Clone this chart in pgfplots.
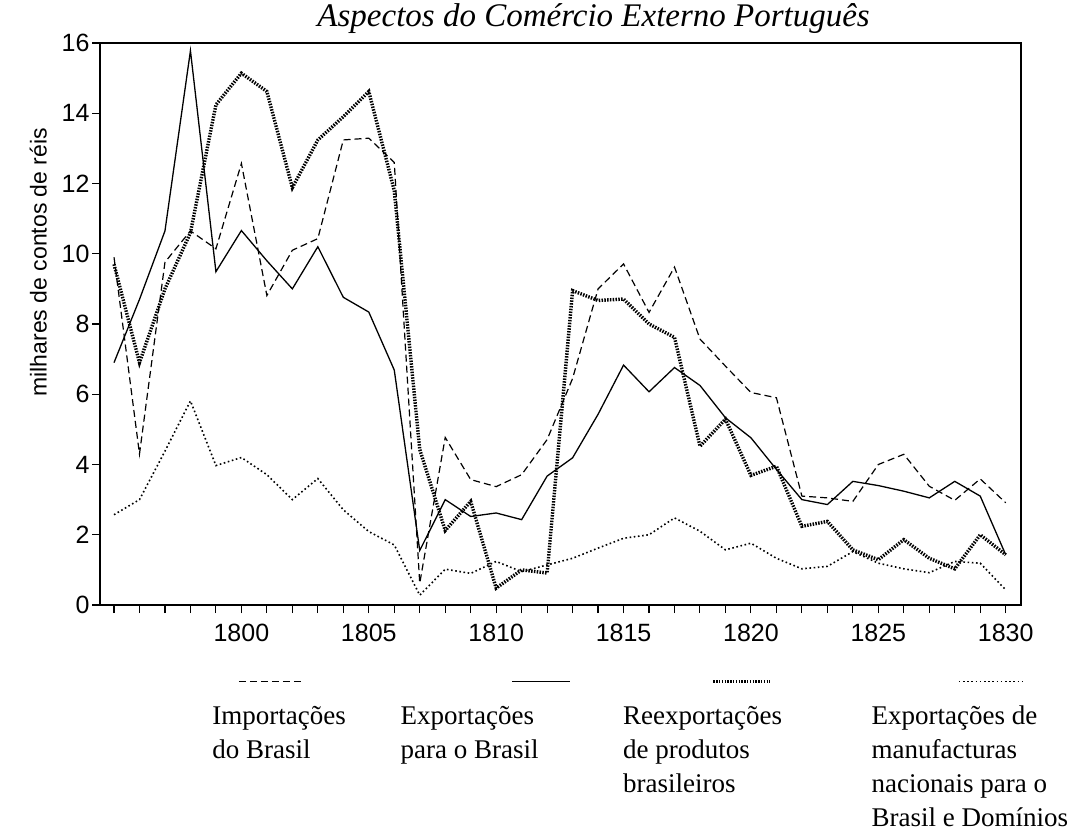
\documentclass[border=0pt]{standalone}
\usepackage{fontspec}
\setmainfont{Liberation Serif}
\setsansfont{Liberation Sans}
\usepackage{pgfplots}
\pgfplotsset{compat=1.18}
\usepackage{pgfplotstable}

\pgfplotsset{limg/.style 2 args={legend image code/.code={\draw[##1, overlay] (#1,19pt) -- (#2,19pt); \path (0pt,0pt);}}}
\newcommand{\legtext}[2]{\parbox[t]{#1}{\raggedright\strut #2}}

\pgfplotstableread{
year imp exp reexp manuf
1795 9.90 6.90 9.70 2.57
1796 4.30 8.70 6.90 3.00
1797 9.76 10.65 9.00 4.38
1798 10.65 15.78 10.60 5.81
1799 10.14 9.49 14.24 3.97
1800 12.57 10.66 15.14 4.20
1801 8.81 9.80 14.62 3.71
1802 10.10 9.00 11.88 3.00
1803 10.43 10.20 13.24 3.60
1804 13.24 8.76 13.90 2.71
1805 13.29 8.34 14.62 2.09
1806 12.60 6.69 11.80 1.71
1807 0.62 1.55 4.43 0.28
1808 4.77 3.00 2.12 1.02
1809 3.57 2.52 2.95 0.90
1810 3.37 2.62 0.48 1.24
1811 3.71 2.43 1.00 0.95
1812 4.71 3.67 0.91 1.14
1813 6.45 4.19 8.95 1.33
1814 9.00 5.43 8.67 1.62
1815 9.71 6.83 8.71 1.90
1816 8.33 6.07 8.00 2.00
1817 9.62 6.76 7.62 2.48
1818 7.57 6.25 4.52 2.10
1819 6.80 5.33 5.29 1.57
1820 6.05 4.76 3.69 1.76
1821 5.90 3.86 3.95 1.33
1822 3.10 3.00 2.24 1.03
1823 3.05 2.86 2.38 1.10
1824 2.95 3.52 1.57 1.52
1825 4.00 3.40 1.29 1.19
1826 4.29 3.24 1.86 1.03
1827 3.38 3.05 1.33 0.92
1828 2.98 3.52 1.03 1.24
1829 3.59 3.10 2.00 1.19
1830 2.91 1.43 1.43 0.43
}\datatable

\begin{document}
\begin{tikzpicture}
\begin{axis}[name=ax, scale only axis, width=921pt, height=562pt,
  xmin=1794.45, xmax=1830.6, ymin=0, ymax=16,
  xtick={1800,1805,...,1830}, minor xtick={1795,...,1830},
  ytick={0,2,...,16},
  tick align=outside, tick pos=left,
  major tick length=8pt, minor tick length=8pt,
  every tick/.style={black, line width=1.1pt},
  axis line style={line width=1.5pt},
  /pgf/number format/assume math mode=true,
  /pgf/number format/1000 sep={},
  xticklabel style={font=\sffamily\fontsize{25}{25}\selectfont, yshift=-8pt},
  yticklabel style={font=\sffamily\fontsize{25}{25}\selectfont, xshift=1pt},
  ylabel={milhares de contos de réis},
  ylabel style={font=\sffamily\fontsize{23}{23}\selectfont,
    at={(axis description cs:-0.067,0.61)}, anchor=center},
  title={Aspectos do Comércio Externo Português},
  title style={font=\itshape\fontsize{33}{33}\selectfont,
    at={(axis description cs:0.536,1)}, anchor=base, yshift=10pt},
  legend columns=4,
  legend style={at={(axis description cs:0.1205,-0.1664)}, anchor=north west,
    draw=none, fill=none, inner sep=0pt, column sep=0pt, row sep=0pt,
    cells={anchor=north west},
    nodes={inner sep=0pt, font=\fontsize{27}{34}\selectfont}},
]
\addplot[black, line width=1.2pt, dash pattern=on 7pt off 4pt, limg={27pt}{92pt}]
  table[x=year, y=imp] {\datatable};
\addlegendentry{\legtext{187pt}{Importações\\do Brasil}}
\addplot[black, line width=1.3pt, limg={112pt}{170pt}]
  table[x=year, y=exp] {\datatable};
\addlegendentry{\legtext{219pt}{Exportações\\para o Brasil}}
\addplot[black, line width=3.4pt, dash pattern=on 1.5pt off 1.3pt, limg={92pt}{149pt}]
  table[x=year, y=reexp] {\datatable};
\addlegendentry{\legtext{247pt}{Reexportações\\de produtos\\brasileiros}}
\addplot[black, line width=1.6pt, dash pattern=on 1.6pt off 2.6pt, limg={88pt}{152pt}]
  table[x=year, y=manuf] {\datatable};
\addlegendentry{\legtext{200pt}{Exportações de\\manufacturas\\nacionais para o\\Brasil e Domínios}}
\end{axis}
\pgfresetboundingbox
\path ([shift={(-100pt,-227pt)}]ax.south west) rectangle ([shift={(54pt,43pt)}]ax.north east);
\end{tikzpicture}
\end{document}
